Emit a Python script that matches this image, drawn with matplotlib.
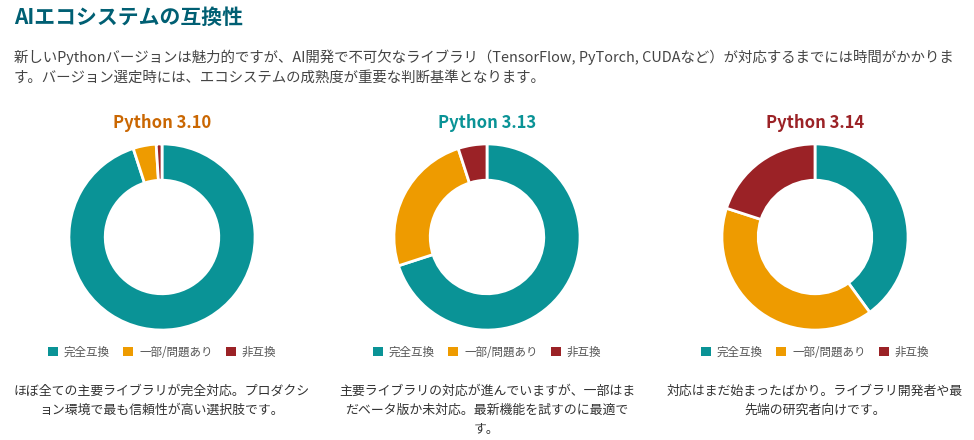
import matplotlib
matplotlib.use('Agg')
import matplotlib.pyplot as plt
from matplotlib.patches import Patch

plt.rcParams['font.family'] = ['Noto Sans CJK JP', 'DejaVu Sans']

# data
categories = ['完全互換', '一部/問題あり', '非互換']
versions = ['Python 3.10', 'Python 3.13', 'Python 3.14']
py310 = [95, 4, 1]
py313 = [70, 25, 5]
py314 = [40, 40, 20]
notes = [
    'ほぼ全ての主要ライブラリが完全対応。プロダクシ\nョン環境で最も信頼性が高い選択肢です。',
    '主要ライブラリの対応が進んでいますが、一部はま\nだベータ版か未対応。最新機能を試すのに最適で\nす。',
    '対応はまだ始まったばかり。ライブラリ開発者や最\n先端の研究者向けです。',
]

seg_colors = ['#0a9396', '#ee9b00', '#9b2226']
title_colors = ['#ca6702', '#0a9396', '#9b2226']

W, H = 974, 440
fig = plt.figure(figsize=(W / 100, H / 100), dpi=100)
fig.patch.set_facecolor('white')


def fx(px):
    return px / W


def fy(py):
    return 1 - py / H


fig.text(fx(14), fy(17), 'AIエコシステムの互換性', fontsize=15, fontweight='bold',
         color='#005f73', va='center', ha='left')
fig.text(fx(14), fy(57),
         '新しいPythonバージョンは魅力的ですが、AI開発で不可欠なライブラリ（TensorFlow, PyTorch, CUDAなど）が対応するまでには時間がかかりま',
         fontsize=10.4, color='#444444', va='center', ha='left')
fig.text(fx(14), fy(78),
         'す。バージョン選定時には、エコシステムの成熟度が重要な判断基準となります。',
         fontsize=10.4, color='#444444', va='center', ha='left')

centers = [162, 487, 815]
radius = 94
for i, vals in enumerate([py310, py313, py314]):
    cx, cy = centers[i], 237
    ax = fig.add_axes([fx(cx - radius), fy(cy + radius), 2 * radius / W, 2 * radius / H])
    ax.pie(vals, colors=seg_colors, startangle=90, counterclock=False, radius=1,
           wedgeprops=dict(width=0.39, edgecolor='white', linewidth=2))
    ax.set_xlim(-1.01, 1.01)
    ax.set_ylim(-1.01, 1.01)
    ax.set_aspect('equal')
    ax.axis('off')

    fig.text(fx(cx), fy(123), versions[i], fontsize=12, fontweight='bold',
             color=title_colors[i], ha='center', va='center')

    handles = [Patch(facecolor=c, edgecolor='none') for c in seg_colors]
    fig.legend(handles, categories, loc='center', bbox_to_anchor=(fx(cx), fy(352)),
               ncol=3, frameon=False, fontsize=8.3, handlelength=0.9, handleheight=0.9,
               handletextpad=0.5, columnspacing=1.15, labelcolor='#555555')

    fig.text(fx(cx), fy(385), notes[i], fontsize=9.3, color='#333333',
             ha='center', va='top', linespacing=1.6)

fig.savefig('out.png', dpi=100)
